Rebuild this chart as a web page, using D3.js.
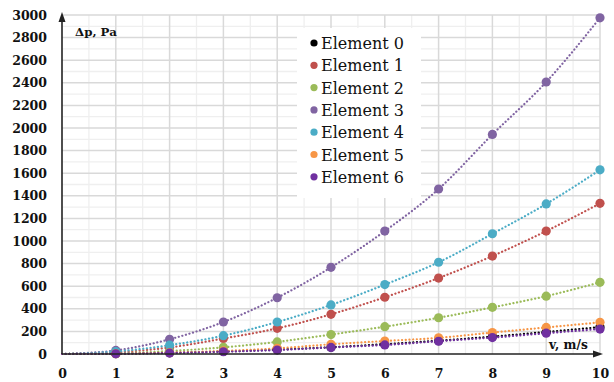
<!DOCTYPE html>
<html>
<head>
<meta charset="utf-8">
<script src="https://cdn.jsdelivr.net/npm/d3@7"></script>
<style>
  body { margin: 0; background: #fff; }
  svg { display: block; }
</style>
</head>
<body>
<svg id="chart" width="614" height="382"></svg>
<script>
// speeds, m/s
var speeds = [1, 2, 3, 4, 5, 6, 7, 8, 9, 10];
var seriesNames = ["Element 0", "Element 1", "Element 2", "Element 3", "Element 4", "Element 5", "Element 6"];
var seriesColors = ["#000000", "#C0504D", "#9BBB59", "#8064A2", "#4BACC6", "#F79646", "#7030A0"];

// pressure drop, Pa
var element0 = [3, 10, 22, 39, 60, 87, 118, 154, 195, 238];
var element1 = [15, 58, 137, 227, 351, 502, 672, 867, 1088, 1333];
var element2 = [6, 26, 59, 107, 172, 242, 321, 413, 512, 634];
var element3 = [32, 130, 283, 498, 767, 1088, 1460, 1943, 2407, 2975];
var element4 = [22, 78, 162, 283, 434, 614, 812, 1064, 1328, 1630];
var element5 = [3, 12, 27, 50, 86, 115, 143, 190, 235, 280];
var element6 = [2, 9, 20, 35, 58, 80, 113, 145, 184, 221];
var allSeries = [element0, element1, element2, element3, element4, element5, element6];

// trend lines start at the origin
var origin = [0, 0];

var xTicks = [0, 1, 2, 3, 4, 5, 6, 7, 8, 9, 10];
var yTicks = [0, 200, 400, 600, 800, 1000, 1200, 1400, 1600, 1800, 2000, 2200, 2400, 2600, 2800, 3000];

// Liberation Serif is not picked up in the sandbox, DejaVu Serif is
var serif = "DejaVu Serif";

var svg = d3.select("#chart");

var x = d3.scaleLinear().domain([0, 10]).range([62, 600]);
var y = d3.scaleLinear().domain([0, 3000]).range([354, 15]);

// grid
var grid = svg.append("g");
grid.selectAll(".vminor")
  .data(d3.range(0.5, 10, 1))
  .enter().append("line")
    .attr("x1", function(d) { return x(d); }).attr("x2", function(d) { return x(d); })
    .attr("y1", y(0)).attr("y2", y(3000))
    .style("stroke", "#efefef").style("stroke-width", 1.3);
grid.selectAll(".hminor")
  .data(d3.range(100, 3000, 200))
  .enter().append("line")
    .attr("x1", x(0)).attr("x2", x(10))
    .attr("y1", function(d) { return y(d); }).attr("y2", function(d) { return y(d); })
    .style("stroke", "#efefef").style("stroke-width", 1.3);
grid.selectAll(".vmajor")
  .data(xTicks.slice(1))
  .enter().append("line")
    .attr("x1", function(d) { return x(d); }).attr("x2", function(d) { return x(d); })
    .attr("y1", y(0)).attr("y2", y(3000))
    .style("stroke", "#d9d9d9").style("stroke-width", 1.5);
grid.selectAll(".hmajor")
  .data(yTicks.slice(1))
  .enter().append("line")
    .attr("x1", x(0)).attr("x2", x(10))
    .attr("y1", function(d) { return y(d); }).attr("y2", function(d) { return y(d); })
    .style("stroke", "#d9d9d9").style("stroke-width", 1.5);

// tick labels
function styleTicks(g) {
  g.select(".domain").remove();
  g.attr("font-family", serif).attr("font-size", 12.5).attr("font-weight", "bold");
  g.selectAll("text").attr("fill", "#111");
}
svg.append("g")
  .attr("transform", "translate(0," + (y(0) + 9) + ")")
  .call(d3.axisBottom(x).tickValues(xTicks).tickSize(0).tickPadding(6).tickFormat(d3.format("d")))
  .call(styleTicks);
svg.append("g")
  .attr("transform", "translate(" + (x(0) - 15) + ",0)")
  .call(d3.axisLeft(y).tickValues(yTicks).tickSize(0).tickPadding(0).tickFormat(d3.format("d")))
  .call(styleTicks);

// legend background (drawn before the data so the curves pass over it)
var legend = svg.append("g");
legend.append("rect")
  .attr("x", 297).attr("y", 28).attr("width", 124).attr("height", 170)
  .style("fill", "#fff");

// series
var line = d3.line()
  .x(function(d) { return x(d[0]); })
  .y(function(d) { return y(d[1]); })
  .curve(d3.curveMonotoneX);

allSeries.forEach(function(vals, i) {
  var pts = [origin].concat(speeds.map(function(s, j) { return [s, vals[j]]; }));
  svg.append("path")
    .datum(pts)
    .attr("d", line)
    .style("fill", "none")
    .style("stroke", seriesColors[i])
    .style("stroke-width", 2.2)
    .style("stroke-linecap", "round")
    .style("stroke-dasharray", "0.1,3.6");
});
allSeries.forEach(function(vals, i) {
  svg.append("g")
    .selectAll("circle")
    .data(speeds.map(function(s, j) { return [s, vals[j]]; }))
    .enter().append("circle")
      .attr("cx", function(d) { return x(d[0]); })
      .attr("cy", function(d) { return y(d[1]); })
      .attr("r", 4.6)
      .style("fill", seriesColors[i]);
});

// axes arrows
var axisColor = "#222";
svg.append("line").attr("x1", x(0)).attr("x2", x(0)).attr("y1", y(0)).attr("y2", 18)
  .style("stroke", axisColor).style("stroke-width", 1.6);
svg.append("path").attr("d", "M" + x(0) + ",12 L" + (x(0) - 3.5) + ",22 L" + (x(0) + 3.5) + ",22 Z")
  .style("fill", axisColor);
svg.append("line").attr("x1", x(0)).attr("x2", 597).attr("y1", y(0)).attr("y2", y(0))
  .style("stroke", axisColor).style("stroke-width", 1.6);
svg.append("path").attr("d", "M603," + y(0) + " L593," + (y(0) - 3.5) + " L593," + (y(0) + 3.5) + " Z")
  .style("fill", axisColor);

// axis titles
svg.append("text").attr("x", 75).attr("y", 36)
  .attr("font-family", serif).attr("font-weight", "bold").attr("font-size", 11.8)
  .attr("fill", "#111").text("Δp, Pa");
svg.append("text").attr("x", 549).attr("y", 349)
  .attr("font-family", serif).attr("font-weight", "bold").attr("font-size", 12.2)
  .attr("fill", "#111").text("v, m/s");

// legend entries
seriesNames.forEach(function(name, i) {
  var cy = 43 + i * 22.3;
  legend.append("circle").attr("cx", 314).attr("cy", cy).attr("r", 3.6).style("fill", seriesColors[i]);
  legend.append("text").attr("x", 321).attr("y", cy + 6)
    .attr("font-family", serif).attr("font-size", 16)
    .attr("fill", "#111").text(name);
});
</script>
</body>
</html>
